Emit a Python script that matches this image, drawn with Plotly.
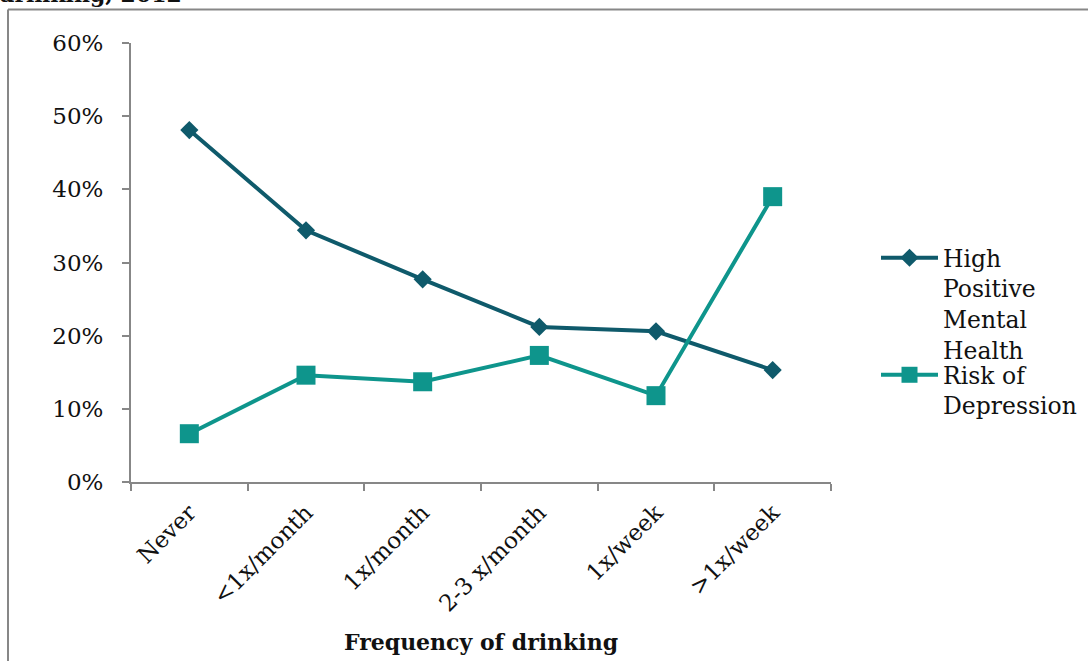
import plotly.graph_objects as go

# Frequency of drinking categories and the share of respondents in each outcome
categories = ["Never", "<1x/month", "1x/month", "2-3 x/month", "1x/week", ">1x/week"]
high_positive_mental_health = [0.481, 0.344, 0.277, 0.212, 0.206, 0.153]
risk_of_depression = [0.066, 0.146, 0.137, 0.173, 0.118, 0.390]

W, H = 1088, 661
L, R, T, B = 131, 831, 43, 482  # plot area in pixels
PW, PH = R - L, B - T


def px_x(p):
    return (p - L) / PW


def px_y(p):
    return (B - p) / PH


DARK = "#0f5a6b"
TEAL = "#0e958c"
AXIS = "#878787"
FONT = "DejaVu Serif"

fig = go.Figure()
fig.add_trace(go.Scatter(
    x=categories, y=high_positive_mental_health, mode="lines+markers",
    name="High<br>Positive<br>Mental<br>Health",
    line=dict(color=DARK, width=4),
    marker=dict(symbol="diamond", size=14, color=DARK),
    legend="legend",
))
fig.add_trace(go.Scatter(
    x=categories, y=risk_of_depression, mode="lines+markers",
    name="Risk of<br>Depression",
    line=dict(color=TEAL, width=4),
    marker=dict(symbol="square", size=19, color=TEAL),
    legend="legend2",
))

legend_common = dict(
    xref="paper", yref="paper", xanchor="left", yanchor="top",
    font=dict(family=FONT, size=23.5, color="#111111"),
    bgcolor="rgba(0,0,0,0)", valign="top", itemwidth=57,
)

fig.update_layout(
    width=W, height=H,
    margin=dict(l=L, r=W - R, t=T, b=H - B, autoexpand=False),
    paper_bgcolor="white", plot_bgcolor="white",
    font=dict(family=FONT, size=23, color="#111111"),
    showlegend=True,
    legend=dict(x=px_x(876), y=px_y(236), **legend_common),
    legend2=dict(x=px_x(876), y=px_y(353), **legend_common),
    xaxis=dict(
        type="category", range=[-0.5, 5.5], automargin=False,
        showline=True, linecolor=AXIS, linewidth=2,
        ticks="outside", tickson="boundaries", ticklen=7, tickcolor=AXIS, tickwidth=2,
        tickangle=-45, showgrid=False, zeroline=False, ticklabelstandoff=6,
        tickfont=dict(family=FONT, size=23, color="#111111"),
        title=dict(text="<b>Frequency of drinking</b>",
                   font=dict(family=FONT, size=22, color="#111111"), standoff=19),
    ),
    yaxis=dict(
        range=[0, 0.6], dtick=0.1, tickformat=".0%", automargin=False,
        showline=True, linecolor=AXIS, linewidth=2,
        ticks="outside", ticklen=7, tickcolor=AXIS, tickwidth=2,
        showgrid=False, zeroline=False, ticklabelstandoff=14,
        tickfont=dict(family=FONT, size=23, color="#111111"),
    ),
    shapes=[
        dict(type="line", xref="paper", yref="paper",
             x0=px_x(8), x1=px_x(W + 10), y0=px_y(9.5), y1=px_y(9.5),
             line=dict(color=AXIS, width=2)),
        dict(type="line", xref="paper", yref="paper",
             x0=px_x(8), x1=px_x(8), y0=px_y(9.5), y1=px_y(H + 10),
             line=dict(color=AXIS, width=2)),
    ],
    annotations=[
        dict(text="<b>drinking, 2012</b>", xref="paper", yref="paper",
             x=px_x(-3), y=px_y(9), xanchor="left", yanchor="bottom",
             showarrow=False, font=dict(family=FONT, size=22, color="#111111")),
    ],
)

fig.write_html("out.html")
